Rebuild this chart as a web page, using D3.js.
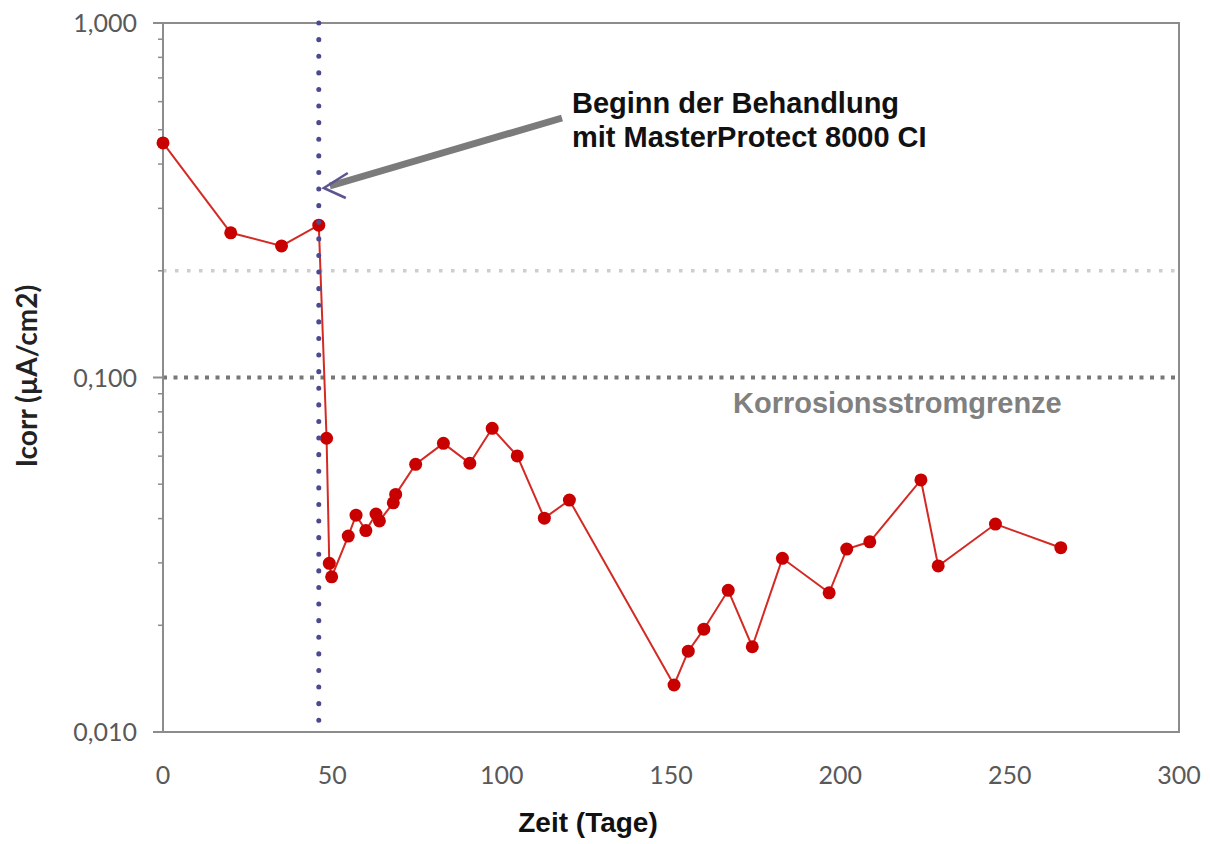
<!DOCTYPE html>
<html>
<head>
<meta charset="utf-8">
<script src="https://cdn.jsdelivr.net/npm/d3@7"></script>
<style>
  body { margin: 0; background: #fff; }
  .tick-label { font-family: Lato, "Open Sans", sans-serif; font-size: 25px; fill: #595959; }
  .axis-title { font-family: "Liberation Sans", Arial, sans-serif; font-weight: bold; font-size: 21px; fill: #111; }
</style>
</head>
<body>
<svg id="chart" width="1210" height="844"></svg>
<script>
"use strict";

// measurement days and corrosion current (µA/cm2)
const days = [0, 20, 35, 46, 48.3, 49.1, 49.8, 54.7, 57, 59.9, 62.9, 63.9, 68, 68.7, 74.6, 82.8, 90.6, 97.2,
  104.6, 112.6, 120, 150.9, 155.1, 159.7, 166.9, 174, 182.9, 196.7, 201.9, 208.7, 223.8, 228.9, 245.8, 265.1]
const icorr = [0.459, 0.256, 0.235, 0.269, 0.0674, 0.0299, 0.0274, 0.0357, 0.0409, 0.0370, 0.0412, 0.0394,
  0.0443, 0.0468, 0.0569, 0.0652, 0.0573, 0.0719, 0.0601, 0.0401, 0.0451, 0.01357, 0.0169, 0.0195, 0.0251,
  0.0174, 0.0309, 0.0247, 0.0328, 0.0344, 0.0514, 0.0294, 0.0386, 0.0331]

const xTicks = [0, 50, 100, 150, 200, 250, 300]
const yTicks = [1, 0.1, 0.01]
const treatmentDay = 46
const limitValue = 0.1
const upperLine = 0.2

const svg = d3.select("#chart")
const plot = { left: 163, right: 1179, top: 23, bottom: 732 }

const x = d3.scaleLinear().domain([0, 300]).range([plot.left, plot.right])
const y = d3.scaleLog().domain([0.01, 1]).range([plot.bottom, plot.top])

const axisColor = "#8c8c8c"
const fmt = v => d3.format(".3f")(v).replace(".", ",")

// minor log ticks on the y axis
const minor = []
for (let d = 0.01; d < 0.5; d *= 10) {
  for (let k = 2; k <= 9; k++) minor.push(d * k)
}
svg.selectAll(".minor")
  .data(minor)
  .enter()
  .append("line")
  .attr("x1", plot.left - 5)
  .attr("x2", plot.left)
  .attr("y1", v => y(v))
  .attr("y2", v => y(v))
  .attr("stroke", axisColor)
  .attr("stroke-width", 1.5)

svg.selectAll(".major")
  .data(yTicks)
  .enter()
  .append("line")
  .attr("x1", plot.left - 10)
  .attr("x2", plot.left)
  .attr("y1", v => y(v))
  .attr("y2", v => y(v))
  .attr("stroke", axisColor)
  .attr("stroke-width", 2)

// horizontal reference lines
svg.append("line")
  .attr("x1", plot.left).attr("x2", plot.right)
  .attr("y1", y(upperLine)).attr("y2", y(upperLine))
  .attr("stroke", "#cdcdcd")
  .attr("stroke-width", 3.5)
  .attr("stroke-dasharray", "3.5 8.5")

svg.append("line")
  .attr("x1", plot.left).attr("x2", plot.right)
  .attr("y1", y(limitValue)).attr("y2", y(limitValue))
  .attr("stroke", "#777")
  .attr("stroke-width", 4)
  .attr("stroke-dasharray", "4 6.5")

// plot frame
svg.append("rect")
  .attr("x", plot.left).attr("y", plot.top)
  .attr("width", plot.right - plot.left).attr("height", plot.bottom - plot.top)
  .attr("fill", "none")
  .attr("stroke", axisColor)
  .attr("stroke-width", 2)

// tick labels
svg.selectAll(".xlab")
  .data(xTicks)
  .enter()
  .append("text")
  .attr("class", "tick-label")
  .attr("x", v => x(v))
  .attr("y", 784)
  .attr("text-anchor", "middle")
  .text(v => v)

svg.selectAll(".ylab")
  .data(yTicks)
  .enter()
  .append("text")
  .attr("class", "tick-label")
  .attr("x", 137)
  .attr("y", v => y(v) + 9)
  .attr("text-anchor", "end")
  .text(fmt)

// data line
const points = days.map((d, i) => ({ day: d, value: icorr[i] }))
const line = d3.line().x(p => x(p.day)).y(p => y(p.value))

svg.append("path")
  .datum(points)
  .attr("d", line)
  .attr("fill", "none")
  .attr("stroke", "#d42a24")
  .attr("stroke-width", 2)

svg.selectAll(".pt")
  .data(points)
  .enter()
  .append("circle")
  .attr("cx", p => x(p.day))
  .attr("cy", p => y(p.value))
  .attr("r", 6.5)
  .attr("fill", "#c80000")

// treatment start line
svg.append("line")
  .attr("x1", x(treatmentDay)).attr("x2", x(treatmentDay))
  .attr("y1", plot.top).attr("y2", plot.bottom)
  .attr("stroke", "#4c4a8e")
  .attr("stroke-width", 5)
  .attr("stroke-linecap", "round")
  .attr("stroke-dasharray", "0.1 16.5")

// annotation arrow
const tipX = x(treatmentDay) + 5, tipY = 188
svg.append("line")
  .attr("x1", 562).attr("y1", 118)
  .attr("x2", tipX + 6).attr("y2", tipY - 2)
  .attr("stroke", "#7b7b7b")
  .attr("stroke-width", 7)
svg.append("path")
  .attr("d", `M${tipX + 24},${tipY - 15} L${tipX},${tipY} L${tipX + 22},${tipY + 10}`)
  .attr("fill", "none")
  .attr("stroke", "#5d5590")
  .attr("stroke-width", 2.5)

svg.append("text")
  .attr("class", "axis-title")
  .attr("x", 572).attr("y", 113)
  .style("font-size", "29px")
  .text("Beginn der Behandlung")
svg.append("text")
  .attr("class", "axis-title")
  .attr("x", 572).attr("y", 147)
  .style("font-size", "29px")
  .text("mit MasterProtect 8000 CI")

svg.append("text")
  .attr("class", "axis-title")
  .attr("x", 733).attr("y", 413)
  .style("fill", "#808080")
  .style("font-size", "29px")
  .text("Korrosionsstromgrenze")

// axis titles
svg.append("text")
  .attr("class", "axis-title")
  .attr("x", 588).attr("y", 832)
  .attr("text-anchor", "middle")
  .style("font-size", "28px")
  .text("Zeit (Tage)")

svg.append("text")
  .attr("transform", "translate(37,376) rotate(-90)")
  .attr("text-anchor", "middle")
  .style("font-family", "Lato, sans-serif")
  .style("font-weight", "bold")
  .style("font-size", "28px")
  .style("fill", "#222")
  .text("Icorr (µA/cm2)")
</script>
</body>
</html>
